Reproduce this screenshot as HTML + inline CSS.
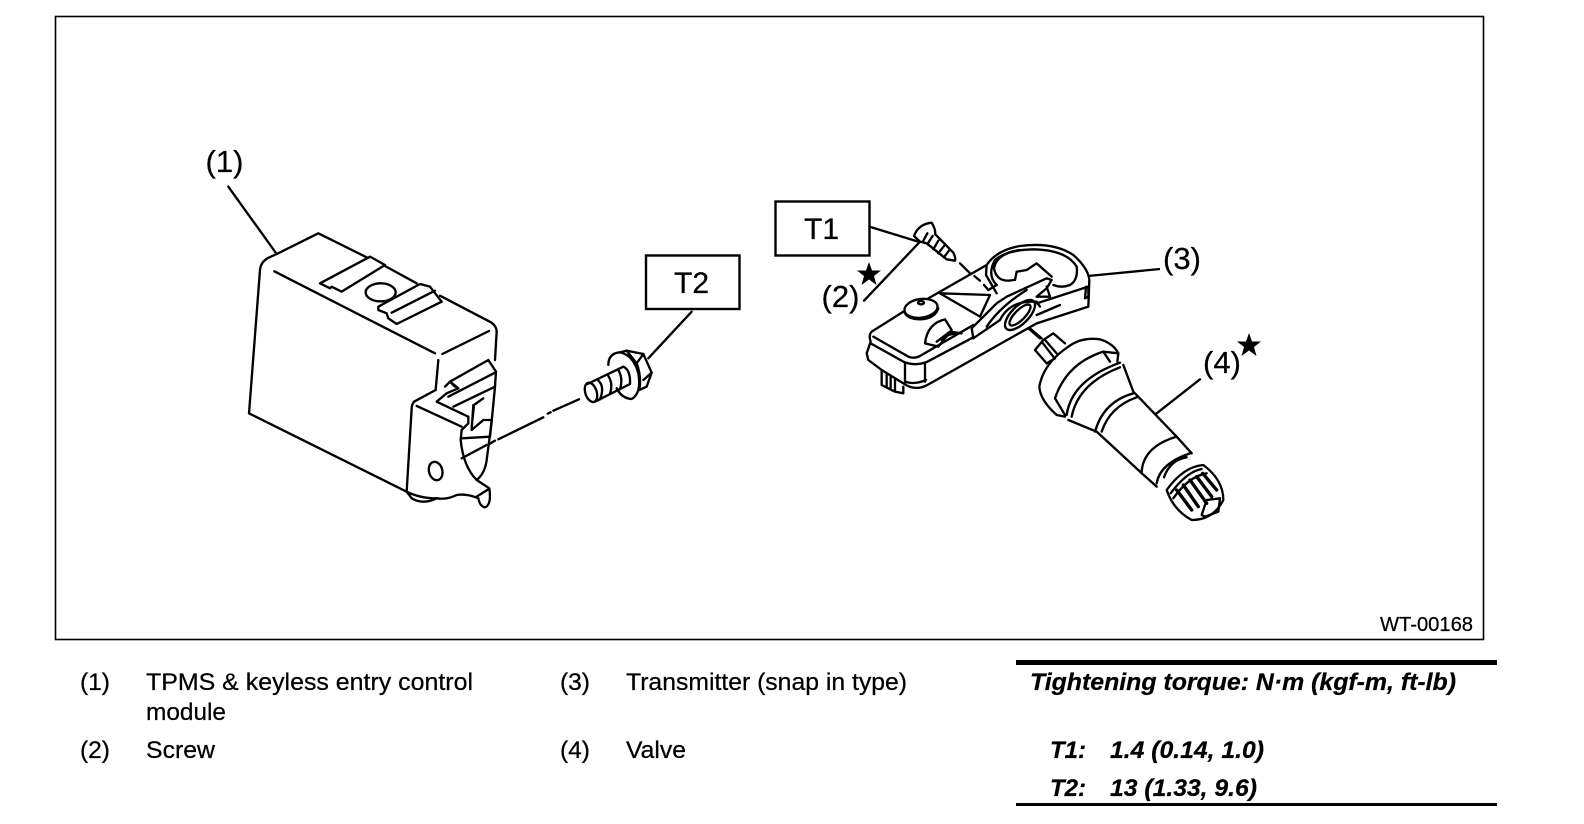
<!DOCTYPE html>
<html>
<head>
<meta charset="utf-8">
<style>
html,body{margin:0;padding:0;background:#fff;width:1584px;height:824px;overflow:hidden}
svg{display:block}
text{font-family:"Liberation Sans",sans-serif;fill:#000;stroke:#000;stroke-width:.25}
.l{font-size:31px}
.n{font-size:30px}
.b{font-size:24.500px}
.t{font-size:24.500px;font-weight:bold;font-style:italic}
.d{fill:none;stroke:#000;stroke-width:7;stroke-linejoin:round;stroke-linecap:round}
</style>
</head>
<body>
<svg width="1584" height="824" viewBox="0 0 1584 824" xmlns="http://www.w3.org/2000/svg">
<rect x="55.5" y="16.5" width="1428" height="623" fill="none" stroke="#000" stroke-width="1.6"/>

<!-- control module -->
<g transform="translate(190,130) scale(.33333)" class="d">
<path d="M115,170 L260,372"/>
<path d="M260,372 L385,310 L530,382 M585,408 L680,460 M750,497 L905,578 Q920,590 920,605 L915,690"/>
<path d="M260,372 L232,385 Q212,397 210,420 L177,850 L650,1085"/>
<path d="M253,424 L735,670 M757,672 L897,603 M745,690 L737,780"/>
<path d="M390,460 L540,380 L585,405 L455,485 L425,470 L420,475 Z"/>
<ellipse cx="572" cy="487" rx="45" ry="27"/>
<path d="M565,530 L690,462 L720,470 L755,515 L620,582 L595,565 L590,550 L565,540 Z"/>
<path d="M605,548 L735,482"/>
<path d="M737,780 L672,815 Q665,825 665,835 L650,1085 L665,1105 Q700,1125 740,1105 Q770,1110 800,1095 Q830,1090 865,1105 Q870,1130 885,1132 Q905,1125 898,1075 L860,1050 Q820,1010 812,930 L815,900 L835,880 L835,860 L740,815 L770,790 L805,775 L780,755 L895,690 L918,725 L915,770 L905,875 L890,990 Q885,1030 860,1050"/>
<path d="M680,828 L815,890 M765,770 L780,755 M790,830 L915,770 M780,755 L795,770 M775,800 L915,728"/>
<path d="M845,890 L852,825 L880,805 M850,825 L845,900 L880,870 L905,870 L900,920 L815,925"/>
<path d="M815,985 L890,945"/>
<ellipse cx="737" cy="1023" rx="20" ry="28" transform="rotate(-15 737 1023)"/>
<path d="M650,1085 Q690,1105 740,1105"/>
<path d="M860,1100 L895,1078"/>
</g>
<!-- dash line and bolt -->
<g transform="translate(480,190) scale(.33333)" class="d">
<path d="M297,628 L220,662 M212,667 L203,671 M190,682 L55,748 M45,752 L28,762"/>
<path d="M635,365 L505,505"/>
<ellipse cx="333" cy="607" rx="17" ry="30" transform="rotate(-18 333 607)"/>
<path d="M320,583 L430,530 M345,635 L450,582"/>
<path d="M355,572 Q375,590 360,628 M385,558 Q400,580 390,612 M415,540 Q430,565 420,598"/>
<path d="M430,530 Q452,540 450,582"/>
<path d="M385,525 Q385,490 420,487 Q460,495 475,550 Q485,610 455,627 Q425,625 410,595"/>
<path d="M420,487 L440,482 L490,492 L515,548 L500,590 L478,600"/>
<path d="M440,482 L470,520 L490,492 M470,520 Q485,560 478,600 M490,570 L515,548"/>
</g>
<!-- T boxes -->
<rect x="646" y="255.5" width="93.500" height="53.500" fill="none" stroke="#000" stroke-width="2.4"/>
<rect x="775.500" y="201.500" width="94" height="54" fill="none" stroke="#000" stroke-width="2.4"/>
<text class="n" x="674" y="293">T2</text>
<text class="n" x="804" y="239">T1</text>
<text class="l" x="205.500" y="172">(1)</text>
<text class="l" x="821.500" y="307">(2)</text>
<text class="l" x="1163" y="269">(3)</text>
<text class="l" x="1203" y="373">(4)</text>
<polygon points="869,262 872,270.500 881,270.500 874,276 876.500,285 869,279.500 861.500,285 864,276 857,270.500 866,270.500"/>
<polygon points="1249,333 1252,341.500 1261,341.500 1254,347 1256.500,356 1249,350.500 1241.500,356 1244,347 1237,341.500 1246,341.500"/>
<path d="M1088,276 L1160,269" stroke="#000" stroke-width="2.300" fill="none"/>

<!-- screw and transmitter -->
<g transform="translate(840,200) scale(.33333)" class="d">
<path d="M88,80 L232,124 M72,302 L240,125"/>
<path d="M222,108 Q235,72 275,68 Q288,90 285,102 L340,158 Q348,175 345,182 L320,178 L260,130 L240,125 Z"/>
<path d="M262,100 L250,122 M278,108 L262,132 M295,122 L280,148 M312,138 L295,160 M328,150 L312,172"/>
<path d="M360,190 L390,220 M403,228 L420,242 M432,255 L445,270"/>
<path d="M265,295 L440,195 Q470,150 540,138 Q640,125 700,165 Q745,205 748,240 L745,320 L590,370 L262,555 Q225,575 190,550 L125,510 L85,480 L80,460 L92,425 Q85,405 95,395 L190,335"/>
<path d="M100,410 L205,470 Q225,478 245,465 L400,375"/>
<path d="M92,430 L190,485 Q225,500 262,485 L400,412"/>
<path d="M195,490 L195,550 M255,490 L255,545 M195,545 Q225,555 258,540"/>
<path d="M125,510 L125,555 L165,575 L190,580 L190,560 M140,520 L140,560 M152,530 L152,568 M165,535 L165,575"/>
<ellipse cx="243" cy="325" rx="50" ry="28" transform="rotate(-8 243 325)"/>
<path d="M193,335 Q200,358 243,358 Q285,355 295,325"/>
<ellipse cx="243" cy="308" rx="9" ry="5"/>
<path d="M255,430 Q262,370 315,358 L335,390 L295,440 Z M290,425 L330,395 L365,400 M305,420 Q325,400 345,402"/>
<path d="M300,280 L450,285 L420,350 M300,280 L420,350"/>
<path d="M395,385 L470,310 L500,290 L620,235 L635,240 L620,265 L590,290 L630,290 L620,260 M400,415 L480,360 Q510,300 590,305 L600,320 M395,385 L400,415 M440,380 Q480,320 560,270"/>
<ellipse cx="540" cy="345" rx="58" ry="26" transform="rotate(-45 540 345)"/>
<ellipse cx="540" cy="345" rx="42" ry="15" transform="rotate(-45 540 345)"/>
<path d="M470,255 Q440,225 465,180 Q500,150 580,148 Q680,150 710,200 Q715,240 690,255 Q665,265 640,255"/>
<path d="M470,255 L445,270 M520,240 Q470,250 462,205 Q470,160 540,150 M525,240 L530,215 L560,210 L590,190 L635,230"/>
<path d="M440,195 L438,225 L470,280"/>
<path d="M590,310 L745,260 M590,345 L660,315"/>
<path d="M738,260 L735,295 L745,290 L745,260"/>
<path d="M565,385 L600,415"/>
</g>

<!-- valve -->
<g transform="translate(1010,320) scale(.33333)" class="d">
<path d="M60,25 L95,55"/>
<path d="M75,90 L100,60 L130,40 L165,70 M75,90 L110,130 L135,115 M95,65 L130,110 M105,60 L140,100"/>
<path d="M175,80 Q100,130 88,200 Q90,240 140,285 L165,290"/>
<path d="M175,80 Q215,50 270,58 Q310,70 325,100 L322,125"/>
<path d="M135,235 L165,285 M135,235 Q170,130 280,95 L325,100 M280,95 L300,125"/>
<path d="M170,285 Q185,180 330,128 M185,290 Q205,190 330,142"/>
<path d="M340,135 L370,215 L500,350 L545,400"/>
<path d="M175,300 L260,335 L390,455 L440,500"/>
<path d="M255,335 Q280,245 370,220 M275,335 Q300,260 380,232"/>
<path d="M395,455 Q400,380 500,350"/>
<path d="M440,490 Q450,430 540,400 M462,472 Q480,420 530,412"/>
<path d="M570,178 L440,280"/>
<path d="M470,510 Q520,440 580,435 Q640,480 640,540 Q610,600 545,600 Q490,570 470,510 Z"/>
<path d="M482,520 Q530,455 575,447 M490,535 Q535,470 590,460"/>
<path d="M500,510 L545,570 M520,495 L565,560 M540,480 L590,550 M560,470 L605,530 M578,460 L620,510" stroke-width="10"/>
<path d="M575,585 L590,540 L630,535 L625,575 L585,590 Z"/>
</g>

<text x="1380" y="631" style="font-size:20.500px" textLength="93" lengthAdjust="spacingAndGlyphs">WT-00168</text>

<text class="b" x="80" y="690">(1)</text>
<text class="b" x="146" y="690" textLength="327" lengthAdjust="spacingAndGlyphs">TPMS &amp; keyless entry control</text>
<text class="b" x="146" y="720" textLength="80" lengthAdjust="spacingAndGlyphs">module</text>
<text class="b" x="80" y="758">(2)</text>
<text class="b" x="146" y="758" textLength="69" lengthAdjust="spacingAndGlyphs">Screw</text>
<text class="b" x="560" y="690">(3)</text>
<text class="b" x="626" y="690" textLength="281" lengthAdjust="spacingAndGlyphs">Transmitter (snap in type)</text>
<text class="b" x="560" y="758">(4)</text>
<text class="b" x="626" y="758" textLength="60" lengthAdjust="spacingAndGlyphs">Valve</text>

<rect x="1016" y="660" width="481" height="5"/>
<rect x="1016" y="803" width="481" height="3"/>
<text class="t" x="1030" y="690" textLength="426" lengthAdjust="spacingAndGlyphs">Tightening torque: N·m (kgf-m, ft-lb)</text>
<text class="t" x="1050" y="758" textLength="36" lengthAdjust="spacingAndGlyphs">T1:</text>
<text class="t" x="1110" y="758" textLength="154" lengthAdjust="spacingAndGlyphs">1.4 (0.14, 1.0)</text>
<text class="t" x="1050" y="796" textLength="36" lengthAdjust="spacingAndGlyphs">T2:</text>
<text class="t" x="1110" y="796" textLength="147" lengthAdjust="spacingAndGlyphs">13 (1.33, 9.6)</text>
</svg>
</body>
</html>
